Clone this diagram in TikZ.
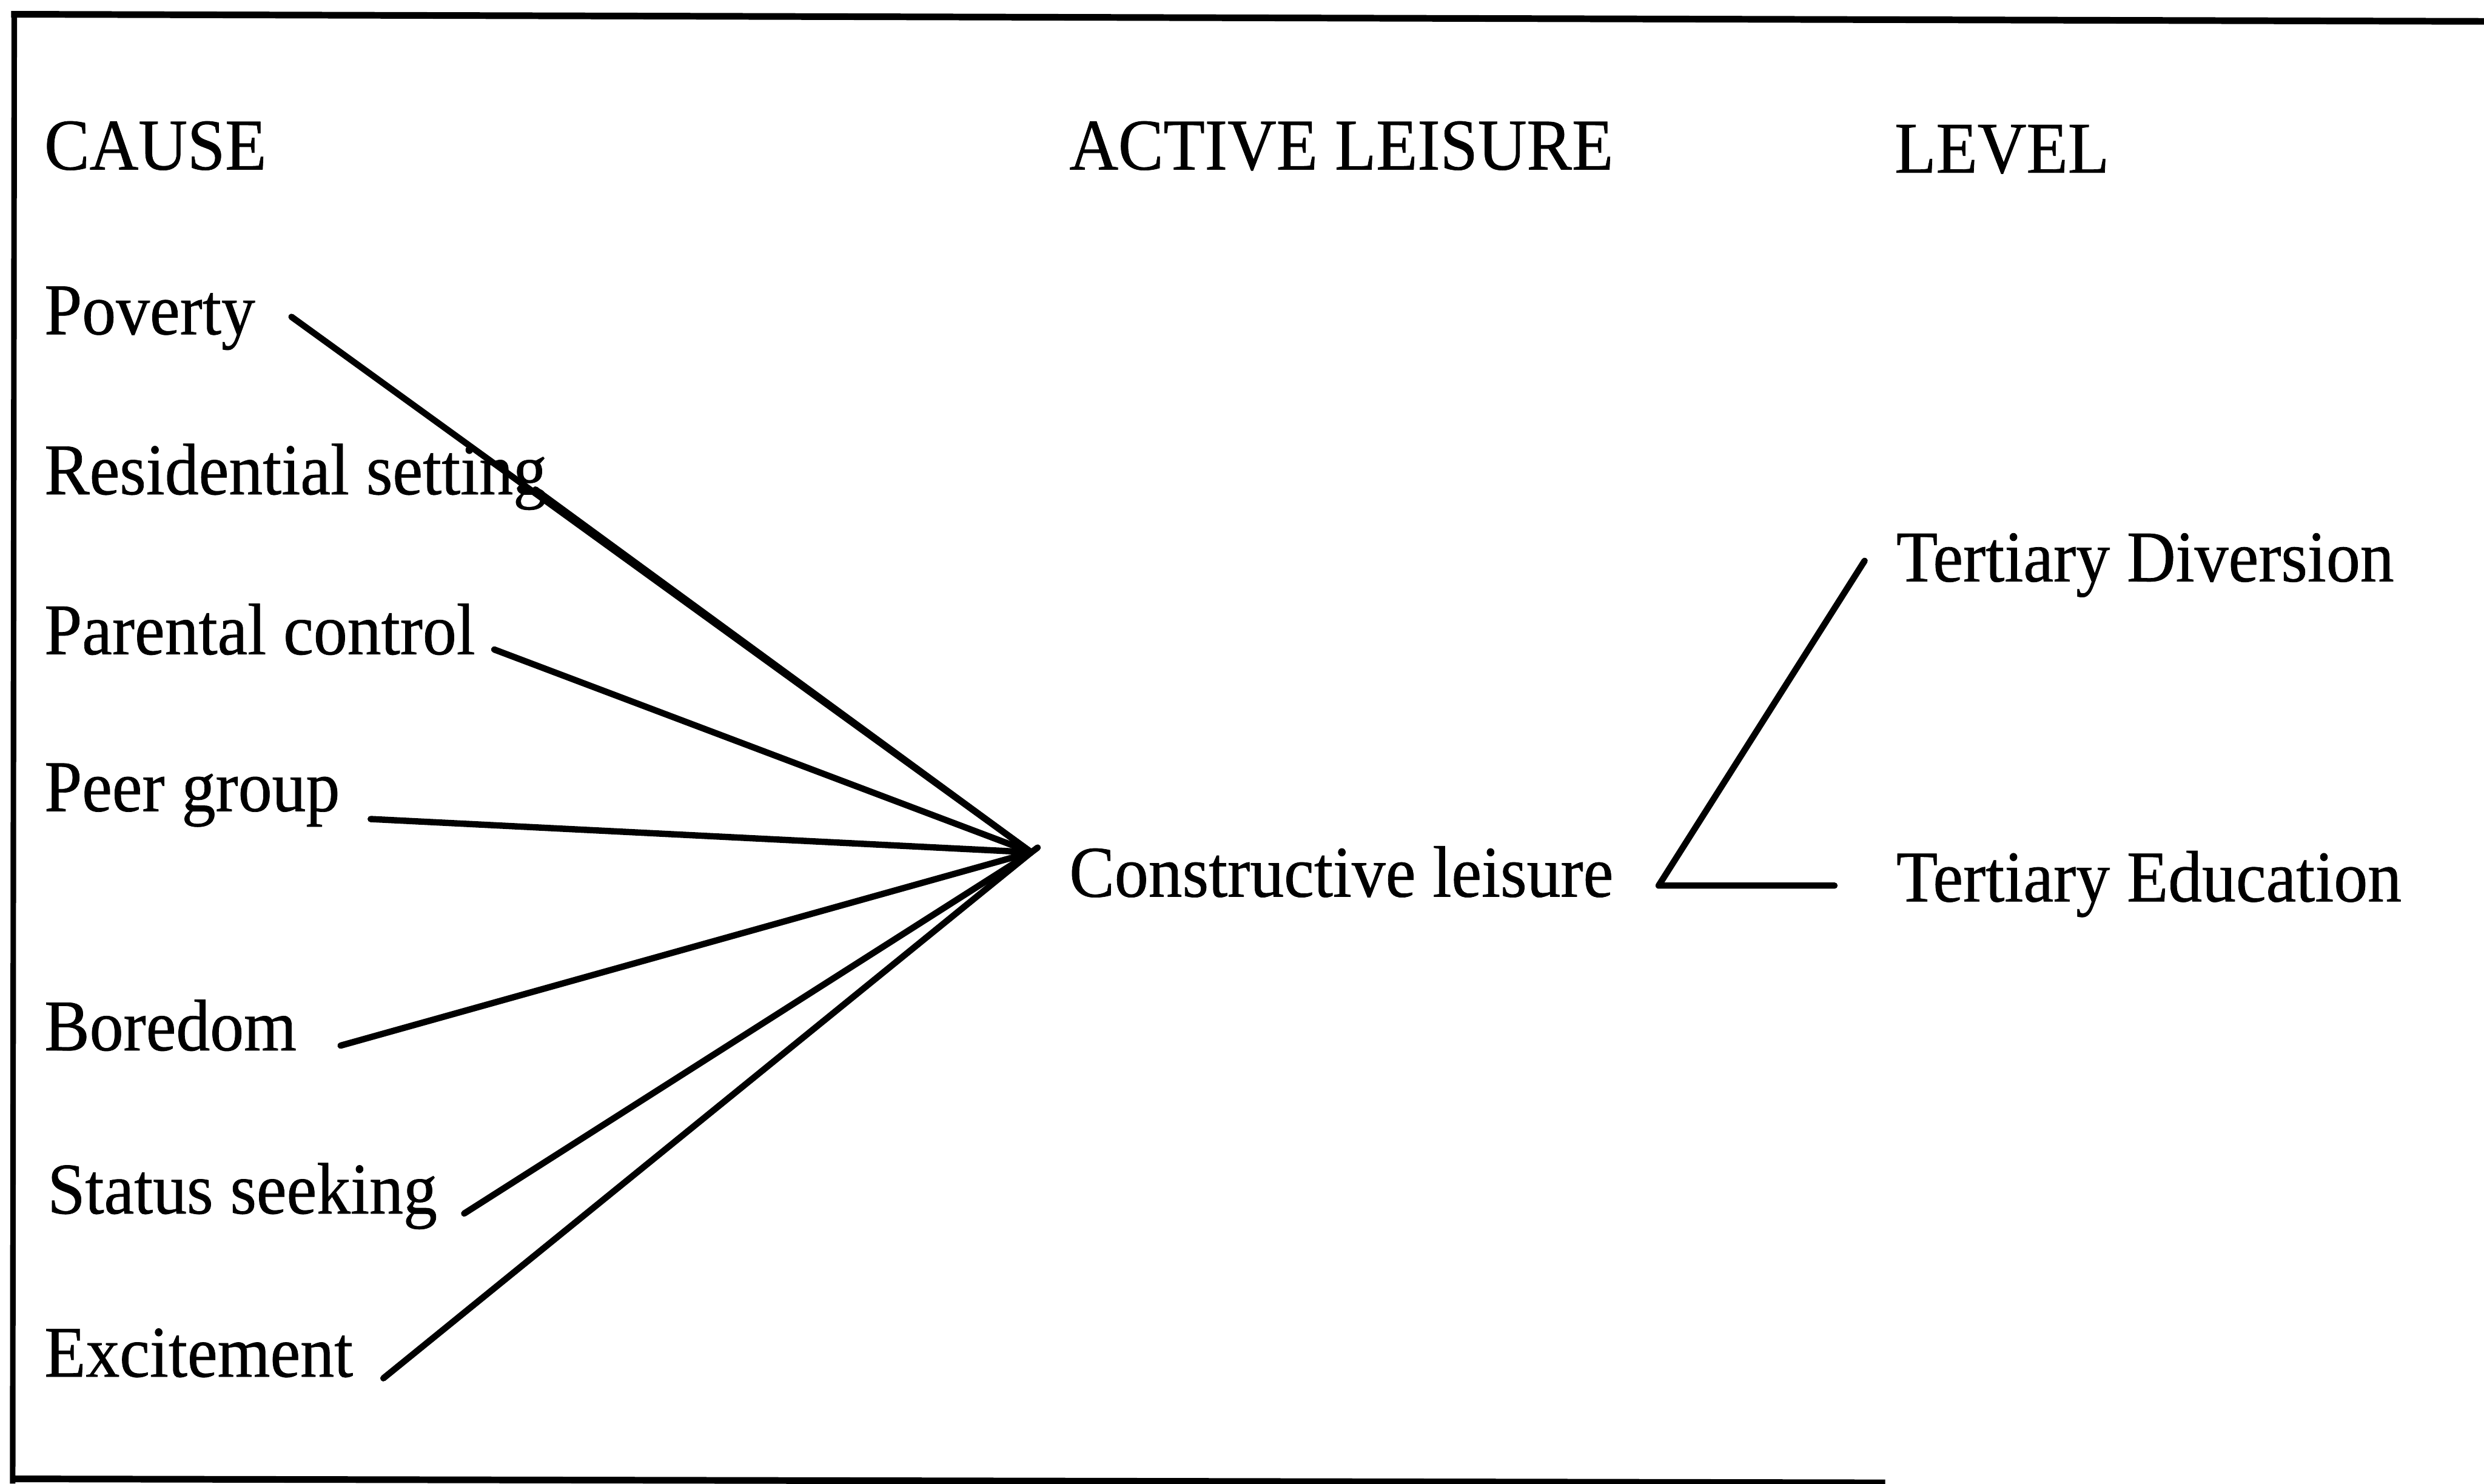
\documentclass[tikz,border=0pt]{standalone}
\usepackage{fontspec}
\setmainfont{Liberation Serif}[FakeStretch=0.93,FakeBold=0.6]
\begin{document}
\begin{tikzpicture}[x=1pt,y=-1pt,
  lbl/.style={anchor=base west,inner sep=0pt,outer sep=0pt,font=\fontsize{46}{50}\selectfont},
  link/.style={line width=4pt,line cap=round,line join=round},
  frame/.style={line width=4.2pt,line cap=butt}]
\useasboundingbox (0,0) rectangle (1568,936.5);
\clip (0,0) rectangle (1568,936.5);

% frame: top, left and bottom edges
\draw[frame] (7,9) -- (1568,13.5);
\draw[frame,line width=3.5pt] (9,7) -- (8,936.5);
\draw[frame] (7,933.5) -- (1190,936);

% column headings
\node[lbl] (hcause) at (28,107) {CAUSE};
\node[lbl] (hactive) at (675,107) {ACTIVE LEISURE};
\node[lbl] (hlevel) at (1196,109) {LEVEL};

% causes
\node[lbl] (poverty) at (28,211) {Poverty};
\node[lbl] (residential) at (28,312) {Residential setting};
\node[lbl] (parental) at (28,413) {Parental control};
\node[lbl] (peer) at (28,512) {Peer group};
\node[lbl] (boredom) at (28,663) {Boredom};
\node[lbl] (status) at (30,766) {Status seeking};
\node[lbl] (excite) at (28,869) {Excitement};

% active leisure and levels
\node[lbl] (constructive) at (675,566) {Constructive leisure};
\node[lbl] (diversion) at (1197,367) {Tertiary Diversion};
\node[lbl] (education) at (1197,569) {Tertiary Education};

% connector ends
\coordinate (cpov) at (184,200);
\coordinate (cres) at (338,309);
\coordinate (cpar) at (312,410);
\coordinate (cpeer) at (234,517);
\coordinate (cbor) at (215,660);
\coordinate (csta) at (293,766);
\coordinate (cexc) at (242,870);
\coordinate (hub) at (651,538);
\coordinate (hubtip) at (655,535);
\coordinate (cfork) at (1047,559);
\coordinate (cdiv) at (1177,354);
\coordinate (cedu) at (1158,559);

% causes converge on constructive leisure
\foreach \c in {cpov,cres,cpar,cpeer,cbor,csta,cexc}
  \draw[link] (\c) -- (hub);
\draw[link] (hub) -- (hubtip);

% constructive leisure branches to the two levels
\draw[link] (cdiv) -- (cfork) -- (cedu);
\end{tikzpicture}
\end{document}
